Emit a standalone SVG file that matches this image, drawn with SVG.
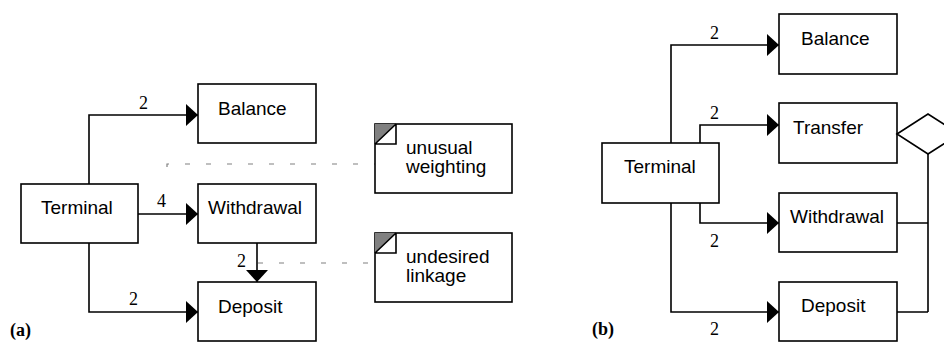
<svg xmlns="http://www.w3.org/2000/svg" width="944" height="342" viewBox="0 0 944 342">
<defs>
<style>
.box{fill:#fff;stroke:#000;stroke-width:1.6}
.lbl{font-family:"Liberation Sans",Arial,sans-serif;font-size:19px;fill:#000}
.num{font-family:"Liberation Serif","Times New Roman",serif;font-size:18px;fill:#000}
.tag{font-family:"Liberation Serif","Times New Roman",serif;font-size:18px;font-weight:bold;fill:#000}
.conn{fill:none;stroke:#000;stroke-width:1.6}
.arr{marker-end:url(#ah)}
.dash{fill:none;stroke:#808080;stroke-width:1.2;stroke-dasharray:5 16}
.corner{fill:#808080}
</style>
<marker id="ah" viewBox="0 0 12 22" refX="12" refY="11" markerWidth="12" markerHeight="22" orient="auto" markerUnits="userSpaceOnUse">
<path d="M0,0 L12,11 L0,22 z" fill="#000"/>
</marker>
</defs>
<rect width="944" height="342" fill="#fff"/>

<g id="connectors">
<!-- (a) -->
<path class="conn arr" d="M89,184 V115 H198"/>
<path class="conn arr" d="M138,214 H198"/>
<path class="conn arr" d="M89,243 V312 H198"/>
<path class="conn arr" d="M257,243 V282"/>
<path class="dash" d="M167,167 V164 H375"/>
<path class="dash" d="M258,263 H375"/>
<!-- (b) -->
<path class="conn arr" d="M671,143 V45 H779"/>
<path class="conn arr" d="M700,143 V125 H779"/>
<path class="conn arr" d="M700,203 V223 H779"/>
<path class="conn arr" d="M671,203 V312 H779"/>
<path class="conn" d="M897,223 H928 M897,312 H928 M928,154 V312"/>
</g>

<g id="labels-a">
<text class="num" x="139" y="109">2</text>
<text class="num" x="157" y="207">4</text>
<text class="num" x="129" y="305">2</text>
<text class="num" x="237" y="267">2</text>
<text class="tag" x="10" y="336">(a)</text>
</g>
<g id="labels-b">
<text class="num" x="710" y="39">2</text>
<text class="num" x="710" y="119">2</text>
<text class="num" x="710" y="247">2</text>
<text class="num" x="710" y="335">2</text>
<text class="tag" x="592" y="335">(b)</text>
</g>

<g id="a-terminal"><rect class="box" x="21" y="184" width="117" height="59"/><text class="lbl" x="41" y="214">Terminal</text></g>
<g id="a-balance"><rect class="box" x="198" y="84" width="118" height="59"/><text class="lbl" x="218" y="115">Balance</text></g>
<g id="a-withdrawal"><rect class="box" x="198" y="184" width="118" height="59"/><text class="lbl" x="208" y="214">Withdrawal</text></g>
<g id="a-deposit"><rect class="box" x="198" y="282" width="118" height="59"/><text class="lbl" x="218" y="313">Deposit</text></g>

<g id="note-unusual">
<rect class="box" x="375" y="124" width="137" height="69"/>
<path class="corner" d="M375,124 H396 L375,144 z"/>
<path class="conn" d="M375,144 H396 V124 M375,144 L396,124" stroke-width="1.2"/>
<text class="lbl" x="406" y="154">unusual</text>
<text class="lbl" x="406" y="173">weighting</text>
</g>
<g id="note-undesired">
<rect class="box" x="375" y="233" width="137" height="69"/>
<path class="corner" d="M375,233 H396 L375,253 z"/>
<path class="conn" d="M375,253 H396 V233 M375,253 L396,233" stroke-width="1.2"/>
<text class="lbl" x="406" y="263">undesired</text>
<text class="lbl" x="406" y="282">linkage</text>
</g>

<g id="b-terminal"><rect class="box" x="602" y="143" width="117" height="60"/><text class="lbl" x="624" y="173">Terminal</text></g>
<g id="b-balance"><rect class="box" x="779" y="14" width="118" height="60"/><text class="lbl" x="801" y="45">Balance</text></g>
<g id="b-transfer"><rect class="box" x="779" y="103" width="118" height="60"/><text class="lbl" x="793" y="134">Transfer</text></g>
<g id="b-withdrawal"><rect class="box" x="779" y="193" width="118" height="59"/><text class="lbl" x="790" y="223">Withdrawal</text></g>
<g id="b-deposit"><rect class="box" x="779" y="282" width="118" height="59"/><text class="lbl" x="801" y="312">Deposit</text></g>
<g id="b-diamond"><path class="box" d="M897,134 L928,114 L959,134 L928,154 z"/></g>
</svg>
